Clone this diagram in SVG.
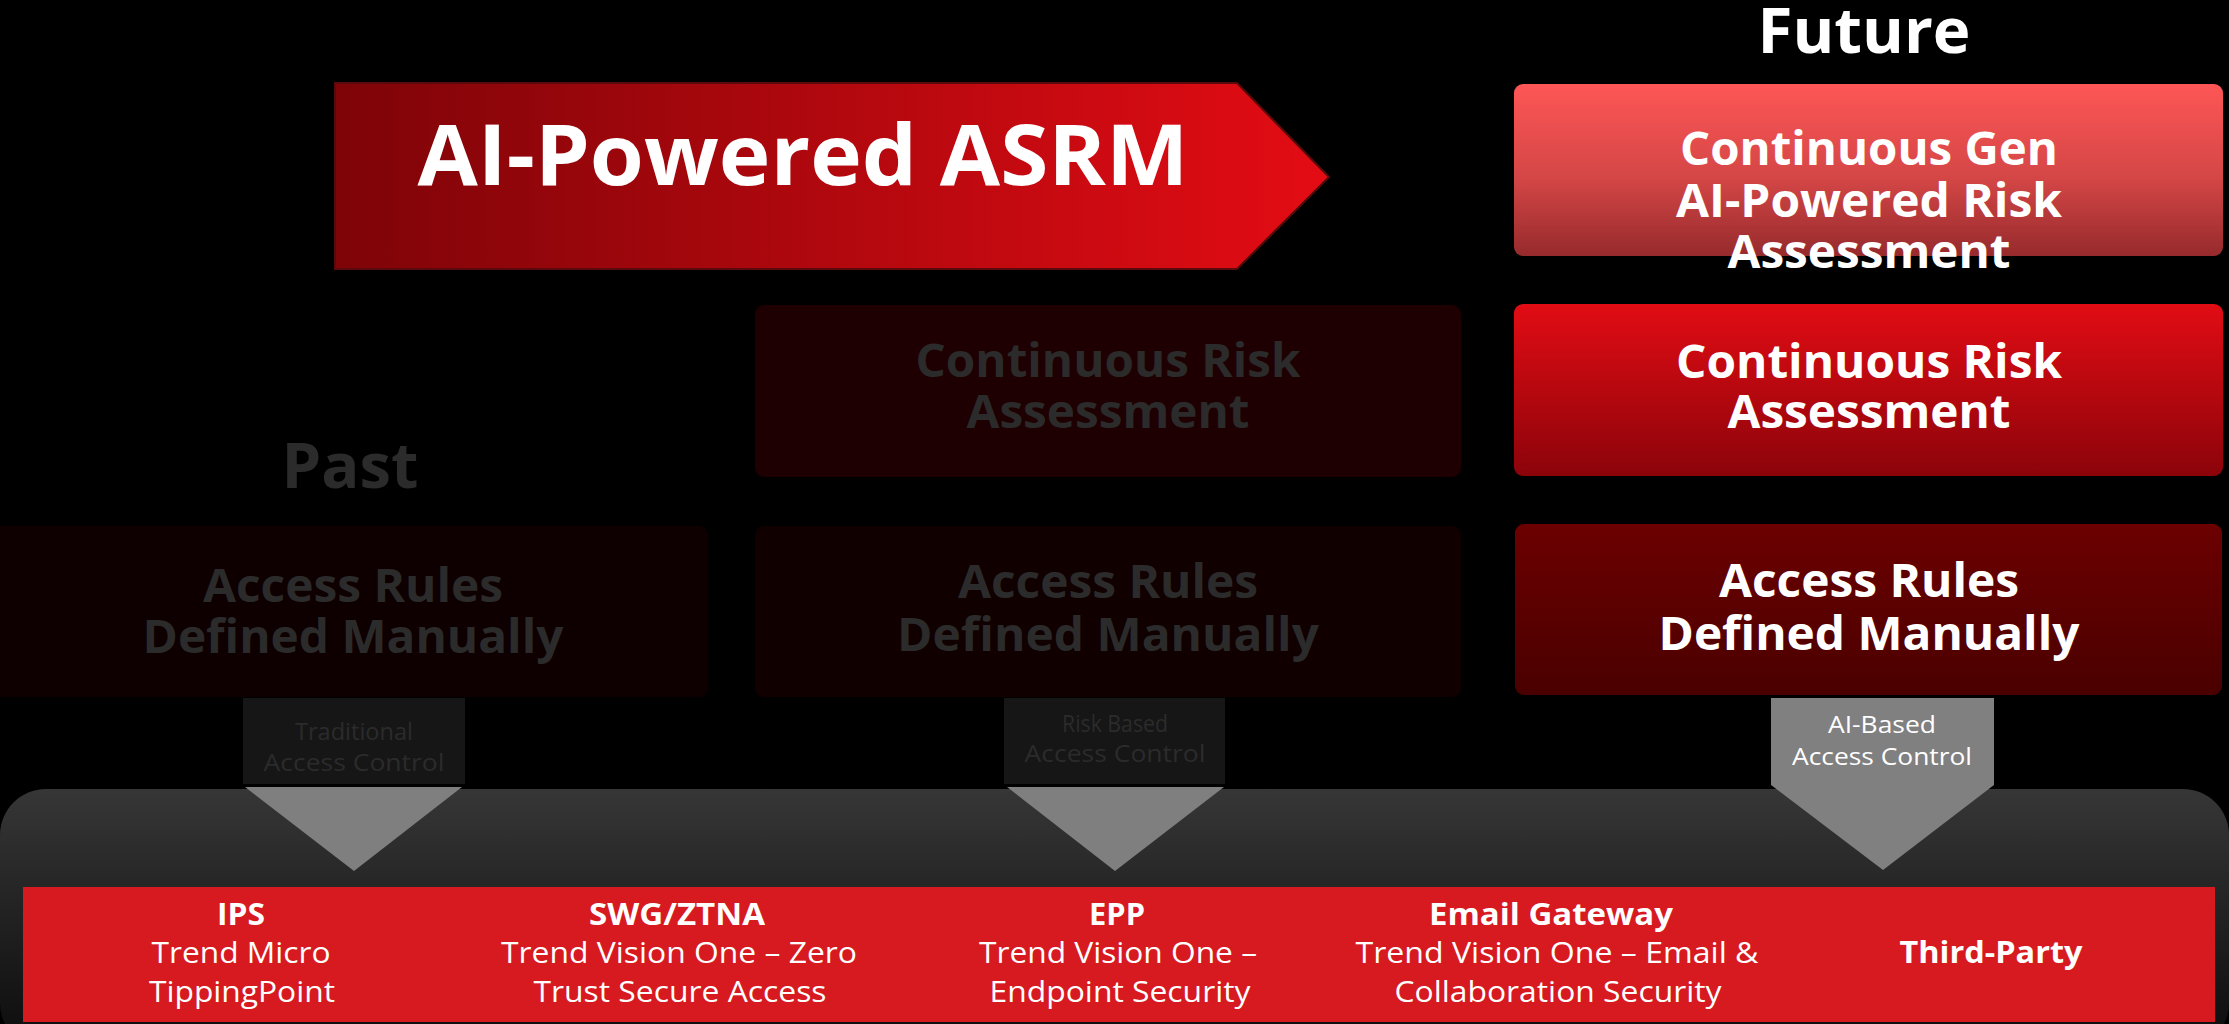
<svg xmlns="http://www.w3.org/2000/svg" width="2229" height="1024" viewBox="0 0 2229 1024">
  <style>
    text { font-family: "Open Sans", "Liberation Sans", sans-serif; text-anchor: middle; }
    .hb { font-weight: 700; font-size: 46px; fill: #ffffff; }
    .ghost { font-weight: 700; font-size: 46px; fill: #2b2b2b; }
    .era { font-weight: 700; font-size: 63px; }
    .lbl { font-weight: 400; font-size: 24px; }
    .prodT { font-weight: 700; font-size: 30px; fill: #ffffff; }
    .prod { font-weight: 400; font-size: 30px; fill: #ffffff; }
  </style>
  <defs>
    <linearGradient id="bannerGrad" x1="0" y1="0" x2="1" y2="0">
      <stop offset="0" stop-color="#7e0408"/>
      <stop offset="1" stop-color="#e40c14"/>
    </linearGradient>
    <linearGradient id="genGrad" x1="0" y1="0" x2="0" y2="1">
      <stop offset="0" stop-color="#fe5656"/>
      <stop offset="0.55" stop-color="#d44646"/>
      <stop offset="1" stop-color="#962a2c"/>
    </linearGradient>
    <linearGradient id="riskGrad" x1="0" y1="0" x2="0" y2="1">
      <stop offset="0" stop-color="#e20c14"/>
      <stop offset="1" stop-color="#8c030a"/>
    </linearGradient>
    <linearGradient id="rulesGrad" x1="0" y1="0" x2="0" y2="1">
      <stop offset="0" stop-color="#6c0000"/>
      <stop offset="1" stop-color="#4a0000"/>
    </linearGradient>
    <linearGradient id="baseGrad" x1="0" y1="0" x2="0" y2="1">
      <stop offset="0" stop-color="#363636"/>
      <stop offset="1" stop-color="#0c0c0c"/>
    </linearGradient>
  </defs>

  <rect x="0" y="0" width="2229" height="1024" fill="#000000"/>

  <!-- Title banner arrow -->
  <g id="banner">
    <path d="M335 83 H1237 L1329 177 L1237 269 H335 Z" fill="url(#bannerGrad)" stroke="#5a0a0a" stroke-width="2"/>
    <text x="803" y="185" font-weight="700" font-size="85" fill="#ffffff" textLength="771" lengthAdjust="spacingAndGlyphs">AI-Powered ASRM</text>
  </g>

  <!-- Era headings -->
  <g id="future-heading">
    <text class="era" x="1864" y="53" fill="#ffffff" textLength="213" lengthAdjust="spacingAndGlyphs">Future</text>
  </g>
  <g id="past-heading">
    <text class="era" x="350" y="488" fill="#2b2b2b" textLength="137" lengthAdjust="spacingAndGlyphs">Past</text>
  </g>

  <!-- Past column -->
  <g id="past-rules">
    <rect x="-10" y="526" width="718" height="171" rx="9" fill="#0e0000"/>
    <text class="ghost" x="353" y="602" textLength="300" lengthAdjust="spacingAndGlyphs">Access Rules</text>
    <text class="ghost" x="353" y="653" textLength="421" lengthAdjust="spacingAndGlyphs">Defined Manually</text>
  </g>

  <!-- Present column -->
  <g id="present-risk">
    <rect x="755" y="305" width="706" height="172" rx="9" fill="#1f0002"/>
    <text class="ghost" x="1108" y="377" textLength="385" lengthAdjust="spacingAndGlyphs">Continuous Risk</text>
    <text class="ghost" x="1108" y="428" textLength="283" lengthAdjust="spacingAndGlyphs">Assessment</text>
  </g>
  <g id="present-rules">
    <rect x="755" y="526" width="706" height="171" rx="9" fill="#100000"/>
    <text class="ghost" x="1108" y="598" textLength="300" lengthAdjust="spacingAndGlyphs">Access Rules</text>
    <text class="ghost" x="1108" y="651" textLength="422" lengthAdjust="spacingAndGlyphs">Defined Manually</text>
  </g>

  <!-- Future column -->
  <g id="future-genai">
    <rect x="1514" y="84" width="709" height="172" rx="9" fill="url(#genGrad)"/>
    <text class="hb" x="1869" y="165" textLength="378" lengthAdjust="spacingAndGlyphs">Continuous Gen</text>
    <text class="hb" x="1869" y="217" textLength="386" lengthAdjust="spacingAndGlyphs">AI-Powered Risk</text>
    <text class="hb" x="1869" y="268" textLength="283" lengthAdjust="spacingAndGlyphs">Assessment</text>
  </g>
  <g id="future-risk">
    <rect x="1514" y="304" width="709" height="172" rx="9" fill="url(#riskGrad)"/>
    <text class="hb" x="1869" y="378" textLength="386" lengthAdjust="spacingAndGlyphs">Continuous Risk</text>
    <text class="hb" x="1869" y="428" textLength="283" lengthAdjust="spacingAndGlyphs">Assessment</text>
  </g>
  <g id="future-rules">
    <rect x="1515" y="524" width="707" height="171" rx="9" fill="url(#rulesGrad)"/>
    <text class="hb" x="1869" y="597" textLength="300" lengthAdjust="spacingAndGlyphs">Access Rules</text>
    <text class="hb" x="1869" y="650" textLength="421" lengthAdjust="spacingAndGlyphs">Defined Manually</text>
  </g>

  <!-- Product platform base -->
  <g id="platform">
    <rect x="0" y="789" width="2229" height="260" rx="46" fill="url(#baseGrad)"/>
    <rect x="23" y="887" width="2192" height="135" fill="#d71920"/>
  </g>

  <!-- Access control pointers -->
  <g id="connectors">
    <g id="traditional-control">
      <rect x="243" y="698" width="222" height="86" fill="#161616"/>
      <text class="lbl" x="354" y="740" fill="#2b2b2b" textLength="118" lengthAdjust="spacingAndGlyphs">Traditional</text>
      <text class="lbl" x="354" y="771" fill="#2b2b2b" textLength="181" lengthAdjust="spacingAndGlyphs">Access Control</text>
      <path d="M245 787 H462 L354 871 Z" fill="#7f7f7f"/>
    </g>
    <g id="risk-based-control">
      <rect x="1004" y="698" width="221" height="86" fill="#161616"/>
      <text class="lbl" x="1115" y="732" fill="#2b2b2b" textLength="106" lengthAdjust="spacingAndGlyphs">Risk Based</text>
      <text class="lbl" x="1115" y="762" fill="#2b2b2b" textLength="181" lengthAdjust="spacingAndGlyphs">Access Control</text>
      <path d="M1007 787 H1224 L1115 871 Z" fill="#7f7f7f"/>
    </g>
    <g id="ai-based-control">
      <path d="M1771 698 H1994 V785 L1883 870 L1771 785 Z" fill="#808080"/>
      <text class="lbl" x="1882" y="733" fill="#ffffff" textLength="108" lengthAdjust="spacingAndGlyphs">AI-Based</text>
      <text class="lbl" x="1882" y="765" fill="#ffffff" textLength="180" lengthAdjust="spacingAndGlyphs">Access Control</text>
    </g>
  </g>

  <!-- Products -->
  <g id="product-ips">
    <text class="prodT" x="241" y="925" textLength="48" lengthAdjust="spacingAndGlyphs">IPS</text>
    <text class="prod" x="241" y="963" textLength="179" lengthAdjust="spacingAndGlyphs">Trend Micro</text>
    <text class="prod" x="242" y="1002" textLength="186" lengthAdjust="spacingAndGlyphs">TippingPoint</text>
  </g>
  <g id="product-swg">
    <text class="prodT" x="677" y="925" textLength="176" lengthAdjust="spacingAndGlyphs">SWG/ZTNA</text>
    <text class="prod" x="679" y="963" textLength="356" lengthAdjust="spacingAndGlyphs">Trend Vision One – Zero</text>
    <text class="prod" x="680" y="1002" textLength="293" lengthAdjust="spacingAndGlyphs">Trust Secure Access</text>
  </g>
  <g id="product-epp">
    <text class="prodT" x="1117" y="925" textLength="56" lengthAdjust="spacingAndGlyphs">EPP</text>
    <text class="prod" x="1118" y="963" textLength="278" lengthAdjust="spacingAndGlyphs">Trend Vision One –</text>
    <text class="prod" x="1120" y="1002" textLength="261" lengthAdjust="spacingAndGlyphs">Endpoint Security</text>
  </g>
  <g id="product-email">
    <text class="prodT" x="1551" y="925" textLength="244" lengthAdjust="spacingAndGlyphs">Email Gateway</text>
    <text class="prod" x="1557" y="963" textLength="403" lengthAdjust="spacingAndGlyphs">Trend Vision One – Email &amp;</text>
    <text class="prod" x="1558" y="1002" textLength="327" lengthAdjust="spacingAndGlyphs">Collaboration Security</text>
  </g>
  <g id="product-third-party">
    <text class="prodT" x="1991" y="963" textLength="183" lengthAdjust="spacingAndGlyphs">Third-Party</text>
  </g>
</svg>
